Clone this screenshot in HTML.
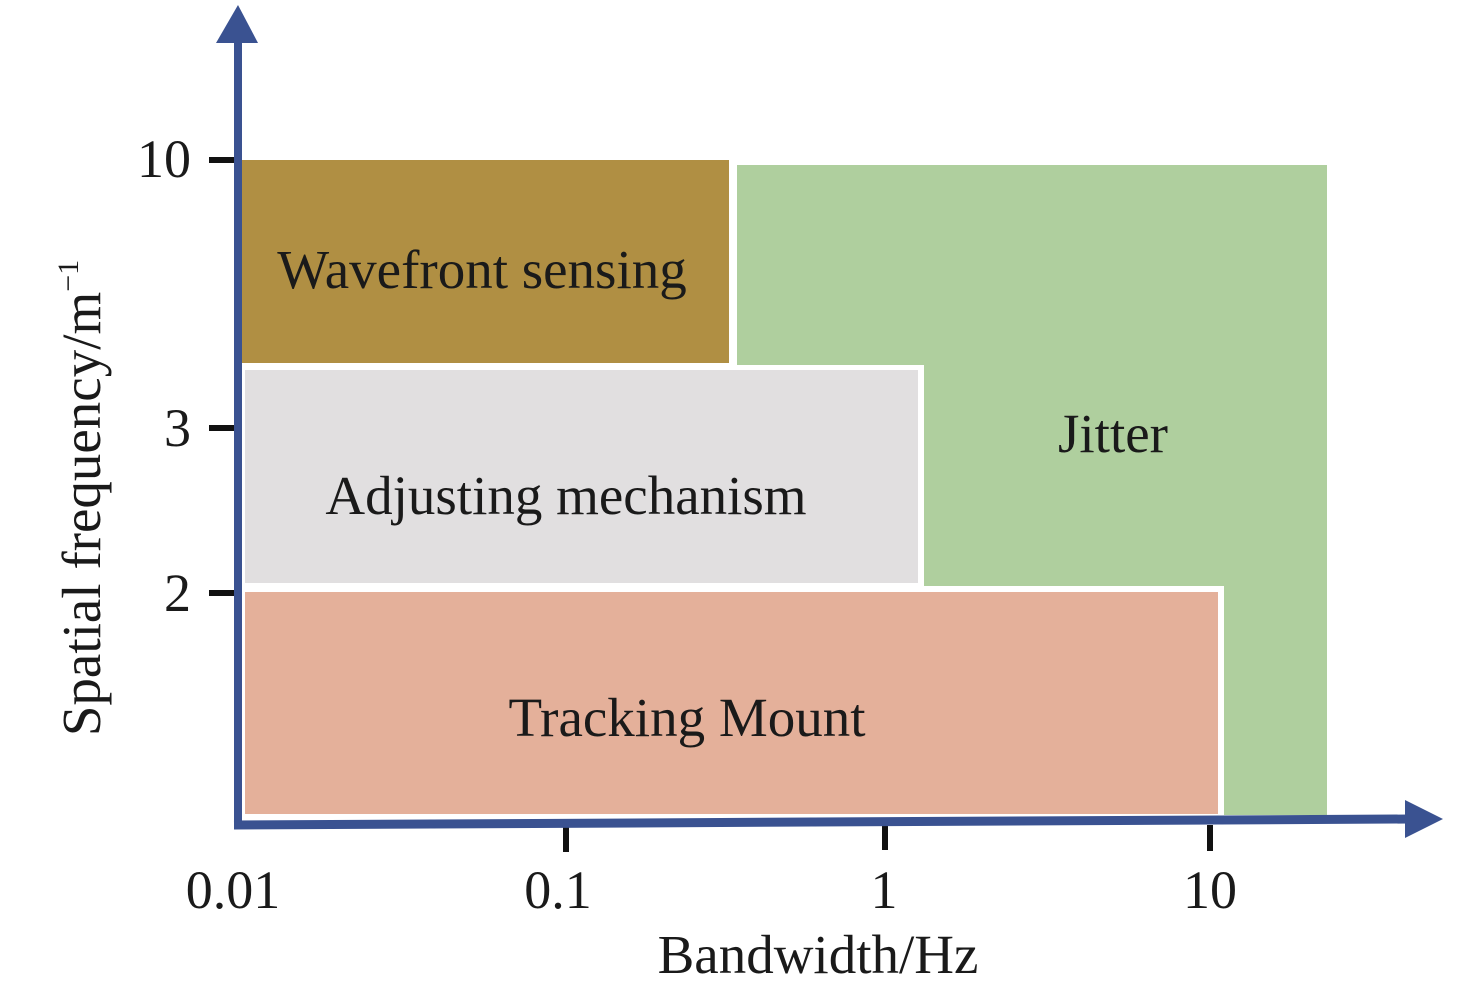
<!DOCTYPE html>
<html><head><style>
body{margin:0;background:#fff;}
svg{display:block;}
text{font-family:"Liberation Serif",serif;fill:#1a1a1a;}
</style></head><body>
<svg width="1476" height="994" viewBox="0 0 1476 994">
<rect x="737" y="165" width="590" height="650" fill="#afcf9e"/>
<rect x="242" y="160" width="487" height="203" fill="#b08f43"/>
<rect x="240" y="365" width="684" height="222" fill="#fff"/>
<rect x="245" y="370" width="673" height="213" fill="#e1dfe0"/>
<rect x="240" y="586" width="984" height="230" fill="#fff"/>
<rect x="245" y="592" width="973" height="222" fill="#e4b09a"/>
<g stroke="#111" stroke-width="6">
<line x1="209" y1="160" x2="238" y2="160"/>
<line x1="209" y1="428" x2="238" y2="428"/>
<line x1="209" y1="593" x2="238" y2="593"/>
<line x1="566" y1="826" x2="566" y2="852"/>
<line x1="885" y1="824" x2="885" y2="850"/>
<line x1="1210" y1="825" x2="1210" y2="851"/>
</g>
<line x1="238" y1="828" x2="238" y2="40" stroke="#3a5291" stroke-width="8"/>
<polygon points="216,43 258,43 238,5" fill="#3a5291"/>
<line x1="234" y1="825" x2="1410" y2="819" stroke="#3a5291" stroke-width="9"/>
<polygon points="1405,800 1405,838 1443,819" fill="#3a5291"/>
<g font-size="54" text-anchor="end">
<text x="191" y="177">10</text>
<text x="191" y="446">3</text>
<text x="191" y="611">2</text>
</g>
<g font-size="54" text-anchor="middle">
<text x="233" y="908">0.01</text>
<text x="558" y="908">0.1</text>
<text x="884" y="908">1</text>
<text x="1210" y="908">10</text>
</g>
<text x="818" y="973" font-size="55" text-anchor="middle">Bandwidth/Hz</text>
<text x="0" y="0" font-size="55" text-anchor="middle" transform="translate(100,498) rotate(-90)">Spatial frequency/m<tspan font-size="30" dy="-22">−1</tspan></text>
<g font-size="55" text-anchor="middle">
<text x="482" y="288">Wavefront sensing</text>
<text x="566" y="514">Adjusting mechanism</text>
<text x="687" y="736">Tracking Mount</text>
<text x="1113" y="452">Jitter</text>
</g>
</svg>
</body></html>
